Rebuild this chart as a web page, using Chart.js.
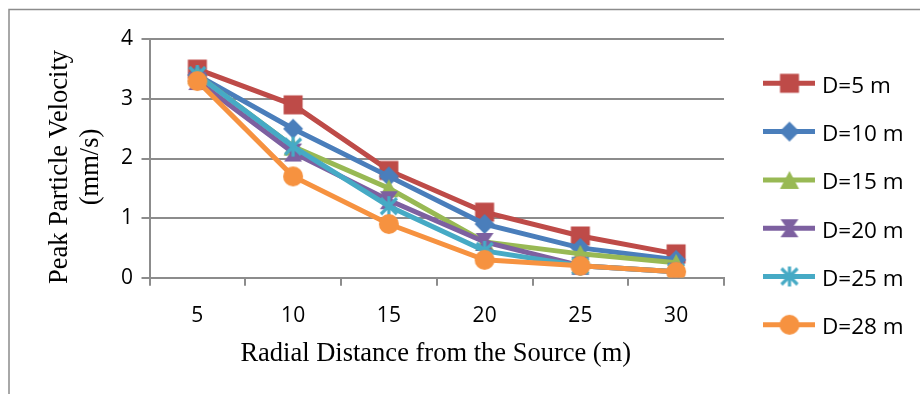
<!DOCTYPE html>
<html><head><meta charset="utf-8">
<script src="https://cdn.jsdelivr.net/npm/chart.js@4.4.1/dist/chart.umd.min.js"></script>
<style>html,body{margin:0;padding:0;background:#fff;overflow:hidden}#wrap{position:relative;width:920px;height:394px}</style>
</head><body><div id="wrap"><canvas id="c" width="920" height="394"></canvas></div>
<script>
// ---- data ----
const categories = ['5', '10', '15', '20', '25', '30'];
const seriesNames = ['D=5 m', 'D=10 m', 'D=15 m', 'D=20 m', 'D=25 m', 'D=28 m'];
const d5  = [3.5, 2.9, 1.8, 1.1, 0.7, 0.4];
const d10 = [3.4, 2.5, 1.7, 0.9, 0.5, 0.3];
const d15 = [3.4, 2.2, 1.5, 0.6, 0.4, 0.25];
const d20 = [3.3, 2.1, 1.3, 0.6, 0.2, 0.1];
const d25 = [3.4, 2.2, 1.2, 0.45, 0.2, 0.1];
const d28 = [3.3, 1.7, 0.9, 0.3, 0.2, 0.1];
const yMin = 0, yMax = 4, yStep = 1;
const xTitle = 'Radial Distance from the Source (m)';
const yTitle = ['Peak Particle Velocity', '(mm/s)'];

// ---- styles ----
const seriesValues = [d5, d10, d15, d20, d25, d28];
const colors = ['#BE4B48', '#4A7EBB', '#98B954', '#7D60A0', '#46AAC5', '#F69240'];
const markerKinds = ['square', 'diamond', 'triangle', 'hourglass', 'star', 'circle'];
const axisColor = '#8c8c8c';
const tickFont = {family: '"Open Sans"', size: 21};
const serif = '"Liberation Serif", "Times New Roman", serif';

function makeMarker(kind, color) {
  const s = 26, c = document.createElement('canvas');
  c.width = s; c.height = s;
  const g = c.getContext('2d');
  g.translate(s / 2, s / 2);
  g.fillStyle = color; g.strokeStyle = color;
  g.beginPath();
  switch (kind) {
    case 'square': g.rect(-9.5, -9.5, 19, 19); g.fill(); break;
    case 'diamond': g.moveTo(0, -10); g.lineTo(10, 0); g.lineTo(0, 10); g.lineTo(-10, 0); g.closePath(); g.fill(); break;
    case 'triangle': g.moveTo(0, -9); g.lineTo(9.5, 9); g.lineTo(-9.5, 9); g.closePath(); g.fill(); break;
    case 'hourglass': g.moveTo(-9, -9); g.lineTo(9, -9); g.lineTo(2.5, 0); g.lineTo(9, 9); g.lineTo(-9, 9); g.lineTo(-2.5, 0); g.closePath(); g.fill(); break;
    case 'star':
      g.lineWidth = 3.2; g.lineCap = 'butt';
      g.moveTo(-8, -8); g.lineTo(8, 8); g.moveTo(-8, 8); g.lineTo(8, -8); g.moveTo(0, -10); g.lineTo(0, 10); g.stroke(); break;
    case 'circle': g.arc(0, 0, 10, 0, Math.PI * 2); g.fill(); break;
  }
  return c;
}
const markers = markerKinds.map((k, i) => makeMarker(k, colors[i]));

const datasets = seriesNames.map((name, i) => ({
  label: name,
  data: seriesValues[i],
  borderColor: colors[i],
  backgroundColor: colors[i],
  borderWidth: 5,
  pointStyle: markers[i],
  pointRadius: 10,
  tension: 0,
  order: seriesNames.length - i
}));

const framePlugin = {
  id: 'frame',
  beforeDraw(chart) {
    const ctx = chart.ctx;
    ctx.save();
    ctx.fillStyle = '#fff';
    ctx.fillRect(0, 0, chart.width, chart.height);
    ctx.strokeStyle = axisColor; ctx.lineWidth = 1.5;
    ctx.beginPath();
    ctx.moveTo(9, chart.height); ctx.lineTo(9, 9.5); ctx.lineTo(chart.width, 9.5);
    ctx.stroke();
    ctx.restore();
  }
};

const titlesPlugin = {
  id: 'titles',
  afterDraw(chart) {
    const ctx = chart.ctx, a = chart.chartArea;
    ctx.save();
    ctx.fillStyle = '#000';
    ctx.font = '26.5px ' + serif;
    ctx.textAlign = 'center';
    ctx.textBaseline = 'alphabetic';
    ctx.fillText(xTitle, (a.left + a.right) / 2 - 1, 361);
    const cy = 167;
    const baselines = [67, 97.5];
    yTitle.forEach((t, i) => {
      ctx.save();
      ctx.translate(baselines[i], cy);
      ctx.rotate(-Math.PI / 2);
      ctx.fillText(t, 0, 0);
      ctx.restore();
    });
    ctx.restore();
  }
};

const legendPlugin = {
  id: 'sideLegend',
  afterDraw(chart) {
    const ctx = chart.ctx;
    ctx.save();
    chart.data.datasets.forEach((ds, i) => {
      const y = 83.3 + i * 48.3;
      ctx.strokeStyle = ds.borderColor; ctx.lineWidth = 5;
      ctx.beginPath(); ctx.moveTo(763, y); ctx.lineTo(815, y); ctx.stroke();
      const m = ds.pointStyle;
      ctx.drawImage(m, 789.5 - m.width / 2, y - m.height / 2);
      ctx.fillStyle = '#000';
      ctx.font = '22.5px "Open Sans"';
      ctx.textAlign = 'left'; ctx.textBaseline = 'alphabetic';
      ctx.fillText(ds.label, 822, y + 9.5);
    });
    ctx.restore();
  }
};

new Chart(document.getElementById('c'), {
  type: 'line',
  data: {labels: categories, datasets},
  options: {
    responsive: false,
    devicePixelRatio: 1,
    animation: false,
    layout: {padding: {top: 39.3, right: 196, bottom: 0, left: 0}},
    plugins: {legend: {display: false}, tooltip: {enabled: false}},
    scales: {
      x: {
        type: 'category',
        offset: true,
        grid: {offset: true, drawOnChartArea: false, drawTicks: true, tickLength: 8, color: axisColor, lineWidth: 2},
        border: {display: true, color: axisColor, width: 2},
        ticks: {color: '#000', font: tickFont, padding: 18, maxRotation: 0},
        afterFit(s) { s.height = 394 - 277.7; }
      },
      y: {
        min: yMin, max: yMax,
        ticks: {stepSize: yStep, color: '#000', font: tickFont, padding: 8.5},
        grid: {color: axisColor, lineWidth: 2, tickLength: 8, drawTicks: true},
        border: {display: true, color: axisColor, width: 2},
        afterFit(s) { s.width = 149.5; }
      }
    }
  },
  plugins: [framePlugin, titlesPlugin, legendPlugin]
});
</script>
</body></html>
